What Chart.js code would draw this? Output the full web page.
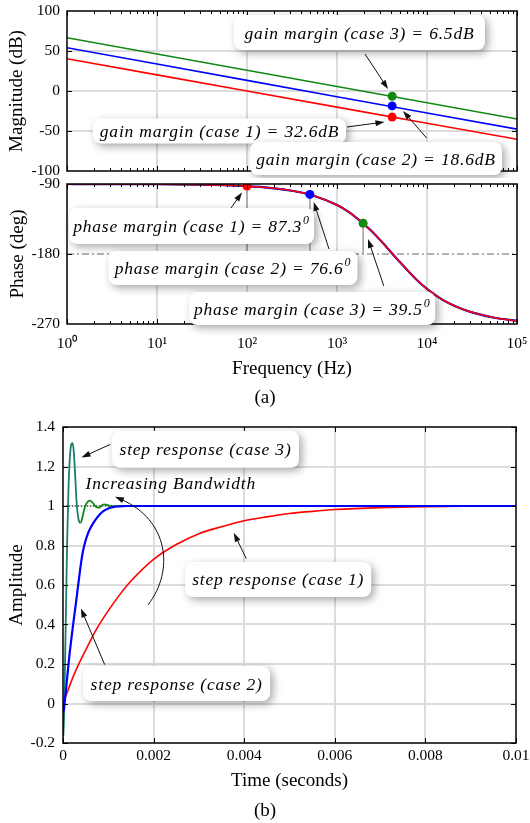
<!DOCTYPE html>
<html>
<head>
<meta charset="utf-8">
<script src="https://cdn.jsdelivr.net/npm/chart.js@4.4.1/dist/chart.umd.min.js"></script>
<style>
  html, body { margin: 0; padding: 0; background: #fff; }
  body { width: 530px; height: 823px; position: relative; overflow: hidden; }
  canvas { position: absolute; left: 0; }
  .cap { position: absolute; left: 0; width: 530px; text-align: center; line-height: 22px;
         font: 19px 'Liberation Serif', serif; color: #000; }
</style>
</head>
<body>
<canvas id="magChart" width="530" height="178" style="top:0"></canvas>
<canvas id="phaseChart" width="530" height="205" style="top:177px"></canvas>
<div class="cap" style="top:386px">(a)</div>
<canvas id="stepChart" width="530" height="385" style="top:410px"></canvas>
<div class="cap" style="top:799px">(b)</div>

<script>
// ---- bode magnitude (dB), straight lines read at each decade
const magFreq = [1, 10, 100, 1000, 10000, 100000];
const magCase1 = [40.4, 20.2, 0, -20.2, -40.3, -60.4];
const magCase2 = [54.1, 33.7, 13.3, -7.1, -27.4, -47.7];
const magCase3 = [66.6, 46.3, 26.0, 5.7, -14.6, -35.0];
const gainMarginFreq = 4100;
const gainMarginDb = [-32.6, -18.6, -6.5];   // case 1, 2, 3

// ---- bode phase (deg), same for all three cases
const phaseFreq = [1, 1.78, 3.16, 5.62, 10, 17.8, 31.6, 56.2, 100, 178, 316, 562, 1000, 1334, 1778,
  2371, 3162, 4217, 5623, 7499, 10000, 13335, 17783, 23714, 31623, 56234, 100000];
const phaseDeg = [-90.0, -90.1, -90.1, -90.2, -90.3, -90.5, -90.9, -91.6, -92.8, -94.9, -98.7, -105.4,
  -117.1, -125.6, -136.8, -149.5, -164.6, -180.9, -196.8, -212.1, -224.9, -235.4, -243.7, -250.1,
  -255.0, -262.0, -266.0];
const phaseMarginFreq = [100, 500, 1950];
const phaseMarginDeg = [-92.7, -103.4, -140.5];

const freqTicks = [1, 10, 100, 1000, 10000, 100000];
const freqTickLabels = ['10\u2070', '10\u00b9', '10\u00b2', '10\u00b3', '10\u2074', '10\u2075'];
const freqMinor = [];
[1, 10, 100, 1000, 10000].forEach((d) => { for (let k = 2; k < 10; k++) freqMinor.push(d * k); });

// ---- step responses
const tCase1 = [0, 0.00025, 0.0005, 0.00075, 0.001, 0.00125, 0.0015, 0.002, 0.0025, 0.003, 0.0035,
  0.004, 0.0045, 0.005, 0.0055, 0.006, 0.007, 0.008, 0.009, 0.01];
const stepCase1 = [0, 0.15, 0.27, 0.38, 0.47, 0.55, 0.62, 0.73, 0.805, 0.86, 0.895,
  0.925, 0.945, 0.962, 0.973, 0.982, 0.992, 0.997, 0.999, 1.0];
const tCase2 = [0, 0.000015, 0.000035, 0.00015, 0.0003, 0.00042, 0.00048, 0.00055, 0.00062, 0.0007,
  0.0008, 0.0009, 0.001, 0.0011, 0.00125, 0.0014, 0.01];
const stepCase2 = [0, -0.04, 0.0, 0.26, 0.535, 0.745, 0.81, 0.86, 0.895, 0.925,
  0.955, 0.975, 0.987, 0.994, 0.998, 1.0, 1.0];
const tCase3 = [0, 0.000012, 0.00003, 0.00006, 0.00009, 0.00012, 0.00015, 0.00018, 0.00021, 0.00024,
  0.00027, 0.0003, 0.00033, 0.00036, 0.00039, 0.00042, 0.00046, 0.0005, 0.00055, 0.0006, 0.00065,
  0.0007, 0.00075, 0.0008, 0.00086, 0.00092, 0.001, 0.0011, 0.0013, 0.01];
const stepCase3 = [0, -0.165, 0.02, 0.4, 0.8, 1.08, 1.24, 1.31, 1.32, 1.27,
  1.15, 1.02, 0.95, 0.92, 0.915, 0.935, 0.975, 1.005, 1.022, 1.027, 1.018,
  1.003, 0.993, 0.992, 1.004, 1.008, 1.003, 0.999, 1.0, 1.0];

const timeTicks = [0, 0.002, 0.004, 0.006, 0.008, 0.01];
const timeTickLabels = ['0', '0.002', '0.004', '0.006', '0.008', '0.01'];
const ampTicks = [-0.2, 0, 0.2, 0.4, 0.6, 0.8, 1, 1.2, 1.4];
const ampTickLabels = ['-0.2', '0', '0.2', '0.4', '0.6', '0.8', '1', '1.2', '1.4'];

const RED = '#ff0000', BLUE = '#0000ff', GREEN = '#128a12', TEAL = '#1d7d6b';
const SERIF = "'Liberation Serif', 'Times New Roman', serif";
const NOTE_FONT = "italic 17.5px 'Liberation Serif', serif";
const SUP_FONT = "italic 12px 'Liberation Serif', serif";
const GRID = '#dcdcdc';

Chart.defaults.font.family = SERIF;
Chart.defaults.color = '#000';

const pts = (xs, ys) => xs.map((x, i) => ({ x, y: ys[i] }));

function arrowHead(ctx, x1, y1, ang) {
  const len = 9, half = 3;
  ctx.fillStyle = '#111';
  ctx.beginPath();
  ctx.moveTo(x1, y1);
  ctx.lineTo(x1 - len * Math.cos(ang) + half * Math.sin(ang), y1 - len * Math.sin(ang) - half * Math.cos(ang));
  ctx.lineTo(x1 - len * Math.cos(ang) - half * Math.sin(ang), y1 - len * Math.sin(ang) + half * Math.cos(ang));
  ctx.closePath();
  ctx.fill();
}

function drawArrow(ctx, x0, y0, x1, y1) {
  const ang = Math.atan2(y1 - y0, x1 - x0);
  ctx.strokeStyle = '#111';
  ctx.lineWidth = 1;
  ctx.beginPath();
  ctx.moveTo(x0, y0);
  ctx.lineTo(x1 - Math.cos(ang) * 7, y1 - Math.sin(ang) * 7);
  ctx.stroke();
  arrowHead(ctx, x1, y1, ang);
}

function drawNote(ctx, n, cx, cy) {
  if (n.w > 0) {
    ctx.save();
    ctx.shadowColor = 'rgba(0,0,0,0.35)';
    ctx.shadowBlur = 8;
    ctx.shadowOffsetX = 3;
    ctx.shadowOffsetY = 3;
    ctx.fillStyle = '#fff';
    ctx.beginPath();
    ctx.roundRect(cx - n.w / 2, cy - n.h / 2, n.w, n.h, 8);
    ctx.fill();
    ctx.restore();
  }
  ctx.fillStyle = '#000';
  ctx.textBaseline = 'alphabetic';
  ctx.textAlign = 'left';
  ctx.letterSpacing = '0.8px';
  ctx.font = NOTE_FONT;
  const w1 = ctx.measureText(n.text).width;
  ctx.font = SUP_FONT;
  const w2 = n.sup ? ctx.measureText(n.sup).width + 1 : 0;
  const x0 = cx - (w1 + w2) / 2;
  const base = cy + 6;
  ctx.font = NOTE_FONT;
  ctx.fillText(n.text, x0, base);
  if (n.sup) {
    ctx.font = SUP_FONT;
    ctx.fillText(n.sup, x0 + w1 + 1, base - 8);
  }
  ctx.letterSpacing = '0px';
}

// ticks, frame, reference lines and notes
const decor = (cfg) => ({
  id: 'decor',
  beforeDatasetsDraw(chart) {
    const { ctx, chartArea: a, scales: { x, y } } = chart;
    ctx.save();
    (cfg.hLines || []).forEach((l) => {
      const py = y.getPixelForValue(l.value);
      ctx.strokeStyle = l.color;
      ctx.lineWidth = l.width;
      ctx.setLineDash(l.dash);
      ctx.beginPath();
      ctx.moveTo(a.left, py);
      ctx.lineTo(a.right, py);
      ctx.stroke();
    });
    ctx.setLineDash([]);
    (cfg.stems || []).forEach((s) => {
      const px = x.getPixelForValue(s.x);
      ctx.strokeStyle = '#a0a0a0';
      ctx.lineWidth = 1.5;
      ctx.beginPath();
      ctx.moveTo(px, y.getPixelForValue(s.from));
      ctx.lineTo(px, y.getPixelForValue(s.to));
      ctx.stroke();
    });
    ctx.restore();
  },
  afterDraw(chart) {
    const { ctx, chartArea: a, scales: { x, y } } = chart;
    ctx.save();
    ctx.strokeStyle = '#000';
    ctx.lineWidth = 1;
    const seg = (x0, y0, x1, y1) => { ctx.beginPath(); ctx.moveTo(x0, y0); ctx.lineTo(x1, y1); ctx.stroke(); };
    [[cfg.xMajor, 5], [cfg.xMinor || [], 3]].forEach(([vals, len]) => vals.forEach((v) => {
      const px = Math.round(x.getPixelForValue(v)) + 0.5;
      seg(px, a.bottom, px, a.bottom - len);
      seg(px, a.top, px, a.top + len);
    }));
    cfg.yMajor.forEach((v) => {
      const py = Math.round(y.getPixelForValue(v)) + 0.5;
      seg(a.left, py, a.left + 5, py);
      seg(a.right, py, a.right - 5, py);
    });
    ctx.lineWidth = 1.5;
    ctx.strokeRect(a.left, a.top, a.right - a.left, a.bottom - a.top);

    const P = (p) => [x.getPixelForValue(p[0]), y.getPixelForValue(p[1])];
    (cfg.notes || []).forEach((n) => {
      const [cx, cy] = P(n.at);
      drawNote(ctx, n, cx, cy);
    });
    (cfg.arrows || []).forEach((ar) => {
      const [x0, y0] = P(ar.from);
      const [x1, y1] = P(ar.to);
      drawArrow(ctx, x0, y0, x1, y1);
    });
    (cfg.curves || []).forEach((c) => {
      const q = c.map(P);
      const ang = Math.atan2(q[3][1] - q[2][1], q[3][0] - q[2][0]);
      ctx.strokeStyle = '#111';
      ctx.lineWidth = 1;
      ctx.beginPath();
      ctx.moveTo(q[0][0], q[0][1]);
      ctx.bezierCurveTo(q[1][0], q[1][1], q[2][0], q[2][1],
        q[3][0] - Math.cos(ang) * 7, q[3][1] - Math.sin(ang) * 7);
      ctx.stroke();
      arrowHead(ctx, q[3][0], q[3][1], ang);
    });
    ctx.restore();
  },
});

const noGridAt = (vals) => (c) => (c.tick && vals.includes(c.tick.value) ? 'rgba(0,0,0,0)' : GRID);
const fixH = (h) => (s) => { s.height = h; s.paddingLeft = 0; s.paddingRight = 0; };
const fixW = (w) => (s) => { s.width = w; s.paddingTop = 0; s.paddingBottom = 0; };

const freqAxis = (showLabels, height, extra) => Object.assign({
  type: 'logarithmic',
  min: 1,
  max: 100000,
  border: { display: false },
  grid: { color: noGridAt([1, 100000]), lineWidth: 2, drawTicks: false },
  afterBuildTicks: (s) => { s.ticks = freqTicks.map((v) => ({ value: v })); },
  afterFit: fixH(height),
  ticks: {
    display: showLabels,
    padding: 11,
    font: { size: 15.5 },
    callback: (v, i) => freqTickLabels[i],
  },
}, extra);

const baseOptions = (pad) => ({
  responsive: false,
  animation: false,
  events: [],
  layout: { padding: pad },
  plugins: { legend: { display: false }, tooltip: { enabled: false } },
});

// ---------------- magnitude
new Chart(document.getElementById('magChart'), {
  type: 'line',
  data: {
    datasets: [
      { data: pts(gainMarginDb.map(() => gainMarginFreq), gainMarginDb), showLine: false,
        pointRadius: 4.5, pointBackgroundColor: [RED, BLUE, GREEN], pointBorderWidth: 0 },
      { data: pts(magFreq, magCase3), borderColor: GREEN, borderWidth: 1.6, pointRadius: 0 },
      { data: pts(magFreq, magCase2), borderColor: BLUE, borderWidth: 1.6, pointRadius: 0 },
      { data: pts(magFreq, magCase1), borderColor: RED, borderWidth: 1.6, pointRadius: 0 },
    ],
  },
  options: Object.assign(baseOptions({ left: 0, right: 13, top: 11, bottom: 0 }), {
    scales: {
      x: freqAxis(false, 7),
      y: {
        min: -100, max: 100,
        border: { display: false },
        grid: { color: noGridAt([-100, 100]), lineWidth: 2, drawTicks: false },
        afterBuildTicks: (s) => { s.ticks = [-100, -50, 0, 50, 100].map((v) => ({ value: v })); },
        afterFit: fixW(67),
        ticks: { padding: 7, font: { size: 15.5 } },
        title: { display: true, text: 'Magnitude (dB)', font: { size: 19 }, padding: { top: 6, bottom: 0 } },
      },
    },
  }),
  plugins: [decor({
    xMajor: freqTicks, xMinor: freqMinor, yMajor: [-50, 0, 50],
    notes: [
      { at: [1778, 73.1], w: 251, h: 35, text: 'gain margin (case 3) = 6.5dB' },
      { at: [49.5, -50], w: 253, h: 25, text: 'gain margin (case 1) = 32.6dB' },
      { at: [2713, -84.4], w: 252, h: 33, text: 'gain margin (case 2) = 18.6dB' },
    ],
    arrows: [
      { from: [2047, 46.25], to: [3690, 2.5] },
      { from: [1292, -45], to: [3370, -38.75] },
      { from: [9908, -58.75], to: [5412, -25] },
    ],
  })],
});

// ---------------- phase
new Chart(document.getElementById('phaseChart'), {
  type: 'line',
  data: {
    datasets: [
      { data: pts(phaseMarginFreq, phaseMarginDeg), showLine: false,
        pointRadius: 4.5, pointBackgroundColor: [RED, BLUE, GREEN], pointBorderWidth: 0 },
      { data: pts(phaseFreq, phaseDeg), borderColor: RED, borderWidth: 1.6, pointRadius: 0, cubicInterpolationMode: 'monotone' },
      { data: pts(phaseFreq, phaseDeg), borderColor: BLUE, borderWidth: 2.2, pointRadius: 0, cubicInterpolationMode: 'monotone' },
      { data: pts(phaseFreq, phaseDeg), borderColor: GREEN, borderWidth: 1.6, pointRadius: 0, cubicInterpolationMode: 'monotone' },
    ],
  },
  options: Object.assign(baseOptions({ left: 0, right: 13, top: 7, bottom: 0 }), {
    scales: {
      x: freqAxis(true, 58, {
        title: { display: true, text: 'Frequency (Hz)', font: { size: 19 }, padding: { top: 0, bottom: 2 } },
      }),
      y: {
        min: -270, max: -90,
        border: { display: false },
        grid: { display: false, drawTicks: false },
        afterBuildTicks: (s) => { s.ticks = [-270, -180, -90].map((v) => ({ value: v })); },
        afterFit: fixW(67),
        ticks: { padding: 7, font: { size: 15.5 } },
        title: { display: true, text: 'Phase (deg)', font: { size: 19 }, padding: { top: 7, bottom: 0 } },
      },
    },
  }),
  plugins: [decor({
    xMajor: freqTicks, xMinor: freqMinor, yMajor: [-180],
    hLines: [{ value: -180, color: '#9a9a9a', width: 1.5, dash: [7, 3, 2, 3] }],
    stems: phaseMarginFreq.map((f, i) => ({ x: f, from: phaseMarginDeg[i], to: -180 })),
    notes: [
      { at: [24.2, -144], w: 245, h: 36, text: 'phase margin (case 1) = 87.3', sup: '0' },
      { at: [69.9, -198], w: 249, h: 34, text: 'phase margin (case 2) = 76.6', sup: '0' },
      { at: [531, -250.1], w: 246, h: 33, text: 'phase margin (case 3) = 39.5', sup: '0' },
    ],
    arrows: [
      { from: [66.4, -120.9], to: [88, -100.9] },
      { from: [815, -173.6], to: [551, -113.1] },
      { from: [3311, -221.1], to: [2210, -160.7] },
    ],
  })],
});

// ---------------- step response
new Chart(document.getElementById('stepChart'), {
  type: 'line',
  data: {
    datasets: [
      { data: pts(tCase2, stepCase2), borderColor: BLUE, borderWidth: 2.2, pointRadius: 0, cubicInterpolationMode: 'monotone' },
      { data: pts(tCase3, stepCase3), borderColor: GREEN, borderWidth: 1.8, pointRadius: 0, cubicInterpolationMode: 'monotone',
        segment: { borderColor: (c) => (c.p1.parsed.x <= 0.0004 ? TEAL : GREEN) } },
      { data: pts(tCase1, stepCase1), borderColor: RED, borderWidth: 1.6, pointRadius: 0, cubicInterpolationMode: 'monotone' },
    ],
  },
  options: Object.assign(baseOptions({ left: 0, right: 14, top: 17, bottom: 0 }), {
    scales: {
      x: {
        type: 'linear', min: 0, max: 0.01,
        border: { display: false },
        grid: { color: noGridAt([0, 0.01]), lineWidth: 2, drawTicks: false },
        afterBuildTicks: (s) => { s.ticks = timeTicks.map((v) => ({ value: v })); },
        afterFit: fixH(52),
        ticks: { padding: 4, font: { size: 15.5 }, callback: (v, i) => timeTickLabels[i] },
        title: { display: true, text: 'Time (seconds)', font: { size: 19 }, padding: { top: 0, bottom: 2.6 } },
      },
      y: {
        min: -0.2, max: 1.4,
        border: { display: false },
        grid: { color: noGridAt([-0.2, 1.4]), lineWidth: 2, drawTicks: false },
        afterBuildTicks: (s) => { s.ticks = ampTicks.map((v) => ({ value: v })); },
        afterFit: fixW(63),
        ticks: { padding: 8, font: { size: 15.5 }, callback: (v, i) => ampTickLabels[i] },
        title: { display: true, text: 'Amplitude', font: { size: 19 }, padding: { top: 6, bottom: 0 } },
      },
    },
  }),
  plugins: [decor({
    xMajor: timeTicks, yMajor: ampTicks,
    hLines: [{ value: 1, color: '#000', width: 1, dash: [1, 2] }],
    notes: [
      { at: [0.003146, 1.287], w: 187, h: 37, text: 'step response (case 3)' },
      { at: [0.002378, 1.118], w: 0, h: 0, text: 'Increasing Bandwidth' },
      { at: [0.00475, 0.628], w: 186, h: 35, text: 'step response (case 1)' },
      { at: [0.002508, 0.101], w: 187, h: 35, text: 'step response (case 2)' },
    ],
    arrows: [
      { from: [0.001046, 1.312], to: [0.000408, 1.246] },
      { from: [0.004046, 0.733], to: [0.00377, 0.864] },
      { from: [0.00092, 0.197], to: [0.000395, 0.481] },
    ],
    curves: [[[0.001876, 0.499], [0.002472, 0.677], [0.002318, 0.930], [0.001148, 1.047]]],
  })],
});
</script>
</body>
</html>
